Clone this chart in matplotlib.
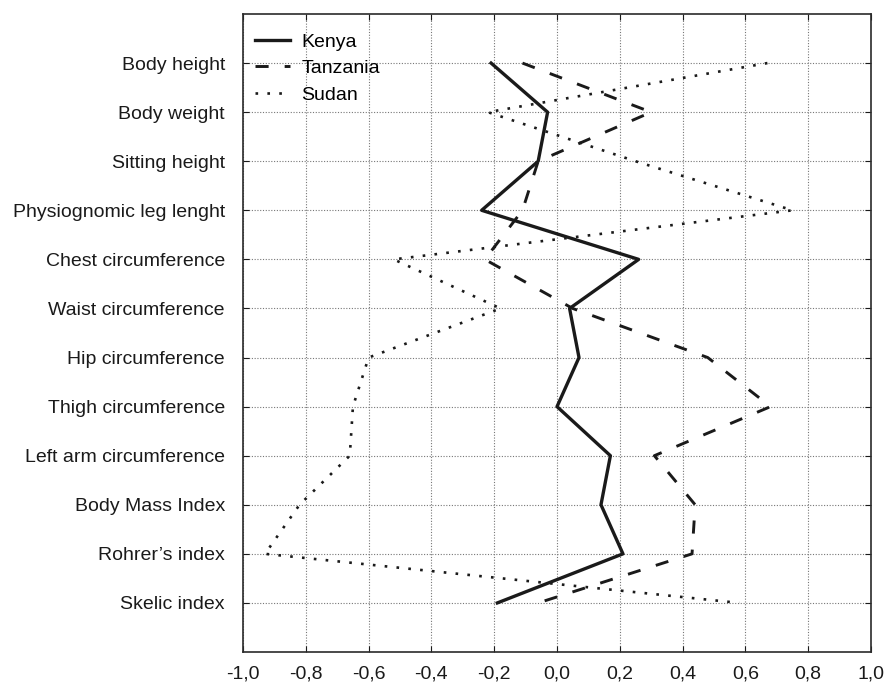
import matplotlib
matplotlib.use('Agg')
import matplotlib.pyplot as plt
from matplotlib.ticker import FuncFormatter

plt.rcParams['font.family'] = ['Liberation Sans', 'DejaVu Sans']

categories = ['Body height', 'Body weight', 'Sitting height', 'Physiognomic leg lenght',
              'Chest circumference', 'Waist circumference', 'Hip circumference',
              'Thigh circumference', 'Left arm circumference', 'Body Mass Index',
              'Rohrer\u2019s index', 'Skelic index']

kenya = [-0.21, -0.03, -0.06, -0.24, 0.26, 0.04, 0.07, 0.0, 0.17, 0.14, 0.21, -0.19]
tanzania = [-0.11, 0.30, -0.06, -0.11, -0.23, 0.05, 0.48, 0.68, 0.31, 0.44, 0.43, -0.06]
sudan = [0.67, -0.22, 0.25, 0.75, -0.52, -0.18, -0.60, -0.65, -0.66, -0.82, -0.93, 0.58]

xticks = [-1.0, -0.8, -0.6, -0.4, -0.2, 0.0, 0.2, 0.4, 0.6, 0.8, 1.0]

fig = plt.figure(figsize=(8.85, 6.83), dpi=100)
ax = fig.add_axes([0.2746, 0.0454, 0.7096, 0.9341])

pos = list(range(1, len(categories) + 1))
ax.plot(kenya, pos, color='#1a1a1a', lw=2.4, ls='-', label='Kenya')
ax.plot(tanzania, pos, color='#1a1a1a', lw=2.1, ls=(0, (4.5, 5.5)), label='Tanzania')
ax.plot(sudan, pos, color='#1a1a1a', lw=1.9, ls=(0, (1, 3.5)), label='Sudan')

ax.set_xlim(-1.0, 1.0)
ax.set_ylim(len(categories) + 1, 0)
ax.set_xticks(xticks)
ax.xaxis.set_major_formatter(FuncFormatter(lambda v, p: f'{v:.1f}'.replace('.', ',')))
ax.set_yticks(pos)
ax.set_yticklabels(categories)

ax.grid(True, color='#777777', ls=(0, (1, 1.5)), lw=0.8)
ax.tick_params(direction='in', length=4, width=0.8, top=True, right=True,
               labelsize=14, colors='#1a1a1a')
ax.tick_params(axis='y', pad=13)
ax.tick_params(axis='x', pad=10)
for s in ax.spines.values():
    s.set_color('#2a2a2a')
    s.set_linewidth(1.2)

ax.legend(loc='upper left', bbox_to_anchor=(0.0, 0.988), frameon=False, fontsize=14,
          handlelength=1.8, handletextpad=0.6, labelspacing=0.45, borderaxespad=0.2)

fig.savefig('out.png', dpi=100)
